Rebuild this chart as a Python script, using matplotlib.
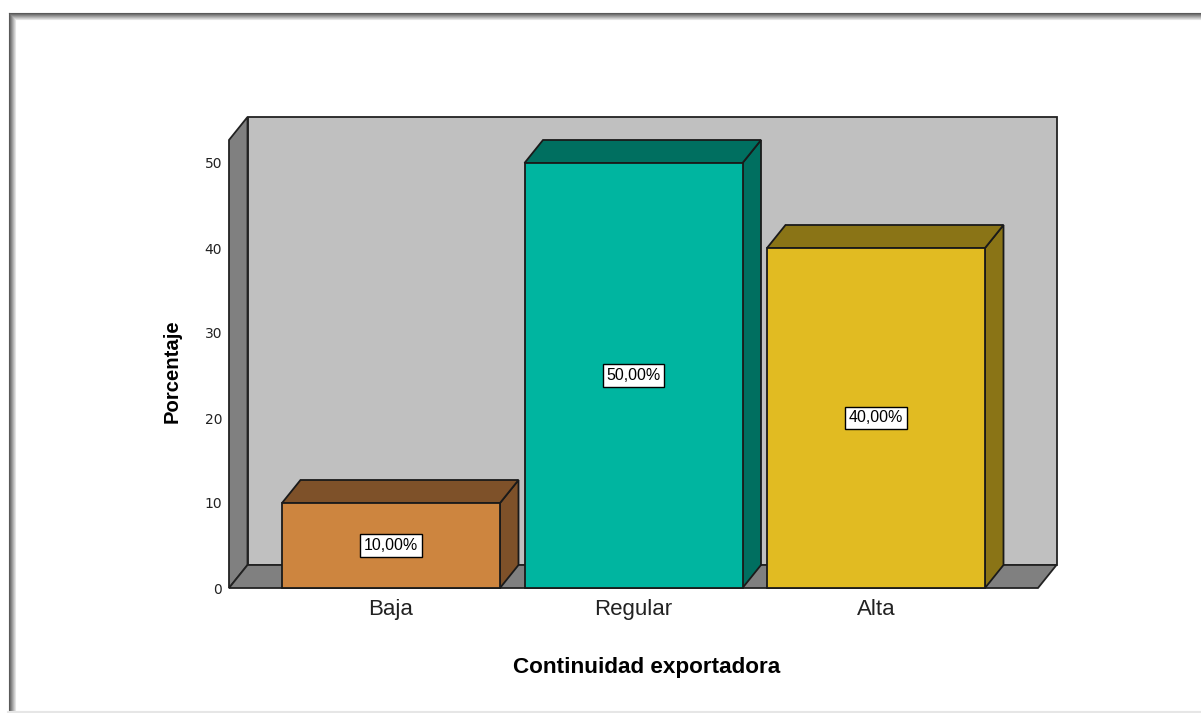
import matplotlib
matplotlib.use("Agg")
import matplotlib.pyplot as plt
from matplotlib.patches import Polygon, Rectangle
from matplotlib.lines import Line2D

# datos del grafico
categorias = ["Baja", "Regular", "Alta"]
porcentajes = [10.0, 50.0, 40.0]
etiquetas = ["10,00%", "50,00%", "40,00%"]
frente = ["#CD853F", "#00B5A0", "#E1BB22"]
sombra = ["#7E5129", "#006F60", "#8A7416"]
yticks = [0, 10, 20, 30, 40, 50]

W, H = 1201, 713
fig = plt.figure(figsize=(W / 100, H / 100), dpi=100)
fig.patch.set_facecolor("white")

# caja 3d en pixeles: frente 229..1038, fondo desplazado (18.5, 23)
x_izq, x_der_fondo = 229, 1057
y_cero, y_tope = 588, 117
px_cat = 242.5
px_val = 8.5
DXp, DYp = 18.5, 23.0

ax = fig.add_axes([x_izq / W, (H - y_cero) / H,
                   (x_der_fondo - x_izq) / W, (y_cero - y_tope) / H])
x0 = -162 / px_cat
ax.set_xlim(x0, x0 + (x_der_fondo - x_izq) / px_cat)
ax.set_ylim(0, (y_cero - y_tope) / px_val)
DX = DXp / px_cat
DY = DYp / px_val
x1 = x0 + (1038 - 229) / px_cat
ymax = (588 - 140) / px_val

gris_fondo = "#C0C0C0"
gris_osc = "#808080"
lw = 1.3

# pared del fondo
ax.add_patch(Polygon([(x0 + DX, DY), (x1 + DX, DY), (x1 + DX, ymax + DY), (x0 + DX, ymax + DY)],
                     closed=True, fc=gris_fondo, ec="#222222", lw=lw, clip_on=False, zorder=1))
# pared lateral izquierda
ax.add_patch(Polygon([(x0, 0), (x0 + DX, DY), (x0 + DX, ymax + DY), (x0, ymax)],
                     closed=True, fc=gris_osc, ec="#222222", lw=lw, clip_on=False, zorder=2))
# piso
ax.add_patch(Polygon([(x0, 0), (x1, 0), (x1 + DX, DY), (x0 + DX, DY)],
                     closed=True, fc=gris_osc, ec="#222222", lw=lw, clip_on=False, zorder=2))

ancho = 218 / px_cat
for i, (v, c, s, lab) in enumerate(zip(porcentajes, frente, sombra, etiquetas)):
    a = i - ancho / 2
    b = i + ancho / 2
    z = 3 + i
    ax.add_patch(Polygon([(b, 0), (b + DX, DY), (b + DX, v + DY), (b, v)],
                         closed=True, fc=s, ec="#1a1a1a", lw=lw, zorder=z, clip_on=False))
    ax.add_patch(Polygon([(a, v), (b, v), (b + DX, v + DY), (a + DX, v + DY)],
                         closed=True, fc=s, ec="#1a1a1a", lw=lw, zorder=z, clip_on=False))
    ax.add_patch(Rectangle((a, 0), ancho, v, fc=c, ec="#1a1a1a", lw=lw, zorder=z, clip_on=False))
    ax.text(i, v / 2, lab, ha="center", va="center", fontsize=11.5,
            family="Liberation Sans", zorder=10,
            bbox=dict(boxstyle="square,pad=0.22", fc="white", ec="black", lw=1))

ax.set_xticks(range(len(categorias)))
ax.set_xticklabels(categorias, fontsize=16, family="Liberation Sans", color="#222222")
ax.set_yticks(yticks)
ax.set_yticklabels([str(t) for t in yticks], fontsize=10, family="DejaVu Sans", color="#222222")
ax.tick_params(axis="both", length=0)
ax.tick_params(axis="y", pad=5)
ax.tick_params(axis="x", pad=8)
for sp in ax.spines.values():
    sp.set_visible(False)
ax.patch.set_visible(False)

fig.text(172.5 / W, 1 - 371 / H, "Porcentaje", rotation=90, ha="center", va="center",
         fontsize=14.6, fontweight="bold", family="Liberation Sans")
fig.text(647 / W, 1 - 668 / H, "Continuidad exportadora", ha="center", va="center",
         fontsize=16.2, fontweight="bold", family="Liberation Sans")

# marco de la ventana con sombra interior
for k in range(7):
    g = 0.35 + k * 0.09
    fig.add_artist(Line2D([(8.5 + k) / W, 1], [1 - (12.5 + k) / H] * 2, color=(g, g, g),
                          lw=0.8, transform=fig.transFigure))
    fig.add_artist(Line2D([(8.5 + k) / W] * 2, [0, 1 - (12.5 + k) / H], color=(g, g, g),
                          lw=0.8, transform=fig.transFigure))
fig.add_artist(Line2D([8 / W, 1], [1.5 / H] * 2, color="#e6e6e6", lw=1.5, transform=fig.transFigure))

fig.savefig("out.png", dpi=100)
